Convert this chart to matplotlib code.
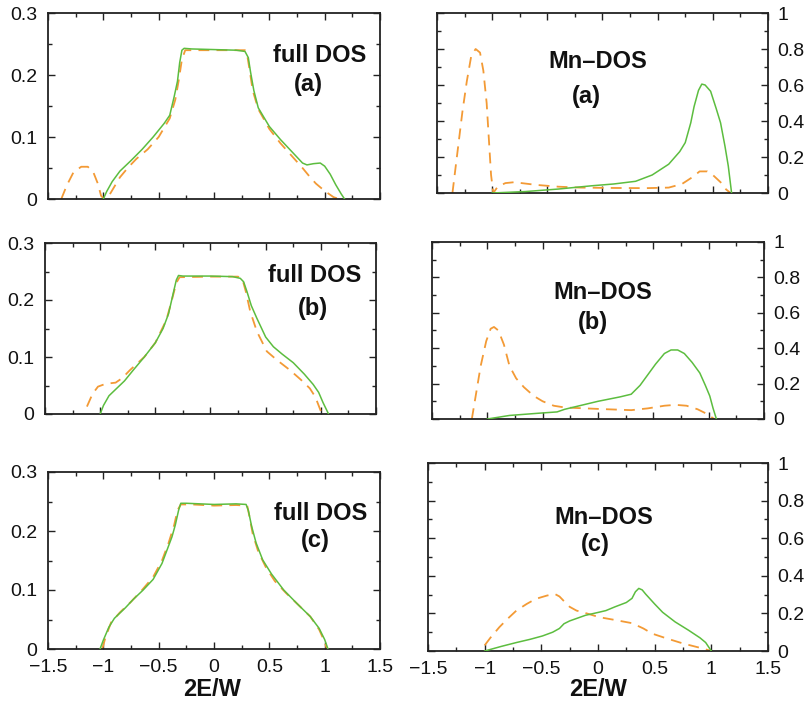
import numpy as np
import matplotlib
matplotlib.use("Agg")
import matplotlib.pyplot as plt
from matplotlib.ticker import MultipleLocator

plt.rcParams['font.family'] = ['Liberation Sans', 'DejaVu Sans']

GREEN = '#5cbd3f'
ORANGE = '#f39a35'

# ---- full DOS, panel (a)
full_a_x_solid = [-1.0, -0.97, -0.92, -0.85, -0.75, -0.65, -0.55, -0.45, -0.4, -0.36, -0.33, -0.31, -0.29, -0.27,
                  -0.2, 0.0, 0.2, 0.28, 0.31, 0.33, 0.36, 0.4, 0.5, 0.6, 0.7, 0.8, 0.84, 0.9, 0.96, 1.0, 1.05,
                  1.1, 1.15, 1.18]
full_a_y_solid = [0.0, 0.012, 0.028, 0.045, 0.062, 0.08, 0.1, 0.122, 0.135, 0.165, 0.19, 0.22, 0.24, 0.243,
                  0.242, 0.241, 0.24, 0.238, 0.228, 0.205, 0.175, 0.147, 0.117, 0.096, 0.077, 0.058, 0.055, 0.057,
                  0.058, 0.053, 0.04, 0.023, 0.008, 0.0]
full_a_x_dash = [-1.38, -1.33, -1.27, -1.2, -1.14, -1.09, -1.05, -1.02, -0.99, -0.95, -0.9, -0.85, -0.78, -0.7,
                 -0.6, -0.5, -0.4, -0.35, -0.32, -0.29, -0.26, -0.2, 0.0, 0.2, 0.28, 0.3, 0.32, 0.35, 0.4, 0.5,
                 0.6, 0.7, 0.8, 0.86, 0.92, 1.0, 1.08, 1.13]
full_a_y_dash = [0.0, 0.022, 0.043, 0.052, 0.052, 0.043, 0.025, 0.005, 0.0, 0.005, 0.02, 0.035, 0.05, 0.065,
                 0.08, 0.1, 0.13, 0.16, 0.19, 0.225, 0.24, 0.24, 0.24, 0.24, 0.24, 0.232, 0.21, 0.175, 0.145,
                 0.113, 0.09, 0.07, 0.05, 0.037, 0.025, 0.013, 0.003, 0.0]

# ---- full DOS, panel (b)
full_b_x_solid = [-1.0, -0.97, -0.92, -0.85, -0.78, -0.7, -0.6, -0.5, -0.43, -0.38, -0.34, -0.31, -0.29, -0.25,
                  0.0, 0.2, 0.27, 0.3, 0.33, 0.37, 0.42, 0.5, 0.57, 0.65, 0.75, 0.85, 0.93, 0.98, 1.02, 1.07]
full_b_y_solid = [0.0, 0.015, 0.032, 0.045, 0.058, 0.077, 0.1, 0.125, 0.15, 0.176, 0.21, 0.235, 0.243, 0.242,
                  0.242, 0.241, 0.238, 0.232, 0.215, 0.19, 0.168, 0.135, 0.118, 0.105, 0.09, 0.07, 0.052, 0.038,
                  0.02, 0.0]
full_b_x_dash = [-1.12, -1.07, -1.02, -0.95, -0.86, -0.8, -0.73, -0.6, -0.5, -0.4, -0.35, -0.31, -0.28, 0.0,
                 0.25, 0.29, 0.32, 0.36, 0.42, 0.51, 0.6, 0.72, 0.82, 0.9, 0.95, 0.98, 1.01]
full_b_y_dash = [0.013, 0.035, 0.048, 0.053, 0.055, 0.063, 0.077, 0.1, 0.125, 0.165, 0.2, 0.23, 0.24, 0.241,
                 0.241, 0.236, 0.215, 0.18, 0.145, 0.11, 0.095, 0.077, 0.06, 0.045, 0.03, 0.015, 0.0]

# ---- full DOS, panel (c)
full_c_x_solid = [-1.03, -1.0, -0.95, -0.9, -0.8, -0.73, -0.64, -0.55, -0.47, -0.42, -0.38, -0.35, -0.32, -0.3,
                  -0.25, 0.0, 0.2, 0.29, 0.31, 0.34, 0.38, 0.44, 0.52, 0.63, 0.75, 0.87, 0.95, 1.0, 1.03]
full_c_y_solid = [0.0, 0.015, 0.037, 0.052, 0.07, 0.084, 0.1, 0.118, 0.145, 0.17, 0.19, 0.21, 0.235, 0.247,
                  0.247, 0.245, 0.246, 0.245, 0.235, 0.208, 0.18, 0.151, 0.127, 0.1, 0.077, 0.055, 0.035, 0.016,
                  0.0]
full_c_x_dash = [-1.01, -0.98, -0.93, -0.85, -0.75, -0.65, -0.55, -0.47, -0.41, -0.36, -0.33, -0.3, -0.2, 0.0,
                 0.2, 0.3, 0.32, 0.35, 0.4, 0.47, 0.55, 0.65, 0.75, 0.87, 0.95, 1.0, 1.02]
full_c_y_dash = [0.0, 0.02, 0.045, 0.062, 0.08, 0.1, 0.122, 0.15, 0.18, 0.21, 0.235, 0.245, 0.245, 0.243,
                 0.244, 0.243, 0.225, 0.195, 0.165, 0.138, 0.115, 0.095, 0.077, 0.055, 0.033, 0.012, 0.0]

# ---- Mn DOS, panel (a)
mn_a_x_solid = [-1.0, -0.7, -0.4, -0.1, 0.1, 0.3, 0.45, 0.6, 0.7, 0.75, 0.8, 0.83, 0.87, 0.9, 0.93, 0.98, 1.03,
                1.07, 1.11, 1.14, 1.17]
mn_a_y_solid = [0.0, 0.008, 0.022, 0.04, 0.05, 0.065, 0.1, 0.16, 0.23, 0.28, 0.39, 0.48, 0.57, 0.605, 0.6, 0.565,
                0.47, 0.39, 0.26, 0.15, 0.0]
mn_a_x_dash = [-1.36, -1.32, -1.27, -1.23, -1.19, -1.15, -1.11, -1.08, -1.05, -1.03, -1.01, -0.99, -0.95, -0.88,
               -0.8, -0.6, -0.4, -0.2, 0.1, 0.4, 0.6, 0.72, 0.82, 0.88, 0.95, 1.0, 1.07, 1.12, 1.16]
mn_a_y_dash = [0.0, 0.2, 0.45, 0.62, 0.76, 0.8, 0.78, 0.68, 0.5, 0.3, 0.1, 0.0, 0.035, 0.055, 0.06, 0.045, 0.035,
               0.03, 0.028, 0.027, 0.03, 0.05, 0.09, 0.12, 0.12, 0.1, 0.06, 0.02, 0.0]

# ---- Mn DOS, panel (b)
mn_b_x_solid = [-1.0, -0.8, -0.55, -0.37, -0.3, -0.2, 0.0, 0.2, 0.3, 0.38, 0.45, 0.52, 0.6, 0.66, 0.72, 0.78,
                0.85, 0.92, 0.97, 1.01, 1.04, 1.07]
mn_b_y_solid = [0.0, 0.02, 0.032, 0.04, 0.055, 0.07, 0.1, 0.125, 0.14, 0.19, 0.25, 0.31, 0.37, 0.39, 0.39, 0.37,
                0.32, 0.26, 0.19, 0.13, 0.06, 0.0]
mn_b_x_dash = [-1.14, -1.1, -1.06, -1.01, -0.97, -0.94, -0.9, -0.85, -0.8, -0.74, -0.67, -0.58, -0.5, -0.4, -0.3,
               0.0, 0.3, 0.45, 0.6, 0.7, 0.8, 0.9, 0.98, 1.05]
mn_b_y_dash = [0.0, 0.15, 0.3, 0.44, 0.51, 0.52, 0.5, 0.42, 0.3, 0.23, 0.18, 0.13, 0.1, 0.075, 0.065, 0.057, 0.05,
               0.06, 0.075, 0.08, 0.075, 0.055, 0.03, 0.0]

# ---- Mn DOS, panel (c)
mn_c_x_solid = [-1.0, -0.85, -0.72, -0.6, -0.49, -0.4, -0.34, -0.3, -0.25, -0.18, -0.11, 0.0, 0.07, 0.15, 0.25,
                0.3, 0.33, 0.36, 0.39, 0.42, 0.5, 0.57, 0.68, 0.8, 0.9, 0.95, 1.0]
mn_c_y_solid = [0.0, 0.025, 0.045, 0.062, 0.08, 0.1, 0.12, 0.145, 0.16, 0.175, 0.19, 0.205, 0.215, 0.235, 0.258,
                0.28, 0.315, 0.333, 0.325, 0.303, 0.25, 0.206, 0.155, 0.11, 0.07, 0.045, 0.0]
mn_c_x_dash = [-1.0, -0.95, -0.87, -0.8, -0.72, -0.63, -0.55, -0.45, -0.38, -0.34, -0.3, -0.25, -0.19, -0.1, 0.01,
               0.15, 0.3, 0.4, 0.48, 0.6, 0.75, 0.9, 1.0]
mn_c_y_dash = [0.03, 0.07, 0.127, 0.17, 0.215, 0.25, 0.277, 0.295, 0.303, 0.29, 0.265, 0.235, 0.215, 0.2, 0.18,
               0.165, 0.148, 0.12, 0.092, 0.068, 0.04, 0.017, 0.0]

x_ticks = [-1.5, -1, -0.5, 0, 0.5, 1, 1.5]
x_tick_labels = ['\u22121.5', '\u22121', '\u22120.5', '0', '0.5', '1', '1.5']
full_ticks = [0, 0.1, 0.2, 0.3]
full_tick_labels = ['0', '0.1', '0.2', '0.3']
mn_ticks = [0, 0.2, 0.4, 0.6, 0.8, 1]
mn_tick_labels = ['0', '0.2', '0.4', '0.6', '0.8', '1']

W, H = 806, 702
fig = plt.figure(figsize=(W / 100, H / 100), dpi=100)


def box(l, r, t, b):
    return [l / W, 1 - b / H, (r - l) / W, (b - t) / H]


def px(x, y):
    return x / W, 1 - y / H


panels = [
    # (box, kind, solid x/y, dashed x/y, bottom row?)
    (box(48, 380, 13, 199), 'full', full_a_x_solid, full_a_y_solid, full_a_x_dash, full_a_y_dash, False),
    (box(437, 768, 13, 193), 'mn', mn_a_x_solid, mn_a_y_solid, mn_a_x_dash, mn_a_y_dash, False),
    (box(45, 376, 243, 414), 'full', full_b_x_solid, full_b_y_solid, full_b_x_dash, full_b_y_dash, False),
    (box(432, 764, 242, 419), 'mn', mn_b_x_solid, mn_b_y_solid, mn_b_x_dash, mn_b_y_dash, False),
    (box(48, 380, 472, 649), 'full', full_c_x_solid, full_c_y_solid, full_c_x_dash, full_c_y_dash, True),
    (box(428, 768, 463, 651), 'mn', mn_c_x_solid, mn_c_y_solid, mn_c_x_dash, mn_c_y_dash, True),
]

for rect, kind, xs, ys, xd, yd, bottom in panels:
    ax = fig.add_axes(rect)
    ax.plot(xs, ys, color=GREEN, lw=1.1, zorder=3)
    ax.plot(xd, yd, color=ORANGE, lw=1.3, dashes=(6, 4), zorder=2)
    ax.set_xlim(-1.5, 1.5)
    ax.set_xticks(x_ticks)
    ax.xaxis.set_minor_locator(MultipleLocator(0.25))
    if bottom:
        ax.set_xticklabels(x_tick_labels)
    else:
        ax.set_xticklabels([])
    if kind == 'full':
        ax.set_ylim(0, 0.3)
        ax.set_yticks(full_ticks)
        ax.set_yticklabels(full_tick_labels)
        ax.yaxis.set_minor_locator(MultipleLocator(0.05))
        ax.tick_params(axis='y', which='both', left=True, right=True, labelleft=True, labelright=False)
        ax.tick_params(axis='y', which='major', pad=8)
    else:
        ax.set_ylim(0, 1)
        ax.set_yticks(mn_ticks)
        ax.set_yticklabels(mn_tick_labels)
        ax.yaxis.set_minor_locator(MultipleLocator(0.1))
        ax.tick_params(axis='y', which='both', left=True, right=True, labelleft=False, labelright=True)
        ax.tick_params(axis='y', which='major', pad=7)
    ax.tick_params(axis='x', which='both', top=True, bottom=True)
    ax.tick_params(axis='x', which='major', pad=7)
    ax.tick_params(which='both', direction='in', width=1.0, color='#222222', labelsize=14,
                   labelcolor='#111111')
    ax.tick_params(which='major', length=5)
    ax.tick_params(which='minor', length=3)
    for s in ax.spines.values():
        s.set_linewidth(1.3)
        s.set_color('#222222')

# panel captions
captions = [
    ('full DOS', 320, 55), ('(a)', 308, 84),
    ('Mn\u2013DOS', 598, 61), ('(a)', 586, 96),
    ('full DOS', 315, 276), ('(b)', 313, 309),
    ('Mn\u2013DOS', 603, 293), ('(b)', 593, 323),
    ('full DOS', 321, 514), ('(c)', 315, 541),
    ('Mn\u2013DOS', 604, 518), ('(c)', 595, 544),
]
for text, x, y in captions:
    fig.text(*px(x, y), text, ha='center', va='center', fontsize=17, fontweight='bold', color='#111111')

fig.text(*px(212, 689), '2E/W', ha='center', va='center', fontsize=17, fontweight='bold', color='#111111')
fig.text(*px(598, 689), '2E/W', ha='center', va='center', fontsize=17, fontweight='bold', color='#111111')

fig.savefig('out.png', dpi=100)
